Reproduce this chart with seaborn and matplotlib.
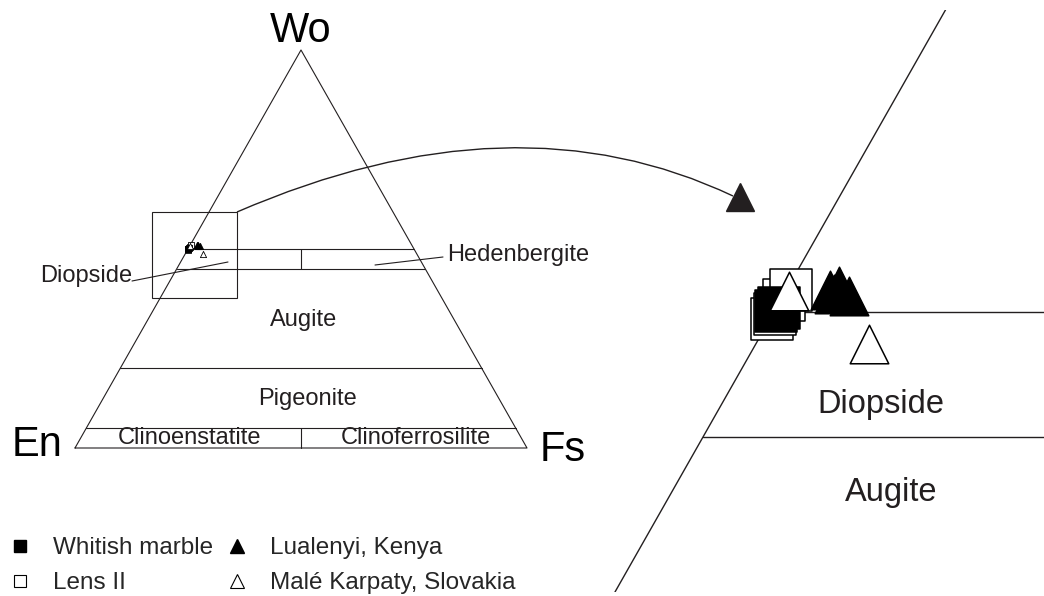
import numpy as np
import pandas as pd
import seaborn as sns
import matplotlib.pyplot as plt
from matplotlib.lines import Line2D
from matplotlib.patches import Rectangle, PathPatch
from matplotlib.path import Path

# pyroxene compositions, mol % (Wo, Fs); En is the rest
marble_wo = [50.18, 50.04]
marble_fs = [0.07, 0.05]
lens_wo = [49.72, 49.92, 50.50, 50.90]
lens_fs = [0.07, 0.08, 0.10, 0.15]
kenya_wo = [50.88, 50.72, 51.04, 50.66]
kenya_fs = [1.53, 1.75, 1.77, 2.31]
slovakia_wo = [50.84, 48.72]
slovakia_fs = [0.11, 3.99]

# Wo lines of the pyroxene classification
wo_lines = [5, 20, 45, 50]

INK = "#231f20"


def tern(wo, fs):
    wo = np.asarray(wo, dtype=float) / 100
    fs = np.asarray(fs, dtype=float) / 100
    return fs + wo / 2, wo


def px(x, y):
    # figure pixel -> main-axes data (used for decorations only)
    return (x - 75) / 452, (448 - y) / 398


sns.set_style("white")
plt.rcParams["font.family"] = ["Liberation Sans", "DejaVu Sans"]

fig = plt.figure(figsize=(10.44, 5.96), dpi=100)
ax1 = fig.add_axes([0, 0, 1, 1])
ax1.axis("off")
ax2 = fig.add_axes([560 / 1044, 4 / 596, 484 / 1044, 582 / 596])
ax2.axis("off")

# --- main triangle
ax1.plot([0, 1, 0.5, 0], [0, 0, 1, 0], color=INK, lw=0.8)
for w in wo_lines:
    y = w / 100
    ax1.plot([y / 2, 1 - y / 2], [y, y], color=INK, lw=0.8)
ax1.plot([0.5, 0.5], [0.45, 0.5], color=INK, lw=0.8)
ax1.plot([0.5, 0.5], [0.0, 0.05], color=INK, lw=0.8)

ax1.text(*px(301, 31), "Wo", fontsize=30, ha="center", va="center", color="black")
ax1.text(*px(37, 445), "En", fontsize=30, ha="center", va="center", color="black")
ax1.text(*px(563, 450), "Fs", fontsize=30, ha="center", va="center", color="black")

lab = dict(fontsize=17, ha="center", va="center", color=INK)
ax1.text(*px(304, 320), "Augite", **lab)
ax1.text(*px(307, 399), "Pigeonite", **lab)
ax1.text(*px(189, 438), "Clinoenstatite", **lab)
ax1.text(*px(416, 438), "Clinoferrosilite", **lab)
ax1.text(*px(86, 276), "Diopside", **lab)
ax1.text(*px(518, 255), "Hedenbergite", **lab)

for (xa, ya), (xb, yb) in [((132, 281), (228, 262)), ((443, 257), (375, 265))]:
    a, b = px(xa, ya), px(xb, yb)
    ax1.plot([a[0], b[0]], [a[1], b[1]], color=INK, lw=0.8)

# zoom box and curved pointer
bx0, by0 = px(152, 298)
bx1, by1 = px(237, 212)
ax1.add_patch(Rectangle((bx0, by0), bx1 - bx0, by1 - by0, fill=False,
                        edgecolor=INK, lw=0.8))
curve = Path([px(237, 212), px(514, 92), px(733, 196)],
             [Path.MOVETO, Path.CURVE3, Path.CURVE3])
ax1.add_patch(PathPatch(curve, fill=False, edgecolor=INK, lw=1.0, clip_on=False))
ax1.plot(*px(739.5, 197), marker="^", ms=19.5, color=INK, clip_on=False)

# --- zoomed panel lines
ax2.plot([0, 0.5], [0, 1], color=INK, lw=1.0)
for w in [45, 50]:
    y = w / 100
    ax2.plot([y / 2, 1 - y / 2], [y, y], color=INK, lw=1.0, zorder=1)
ax2.text(0.2875, 0.4628, "Diopside", fontsize=23.5, ha="center", va="center", color=INK)
ax2.text(0.2912, 0.4276, "Augite", fontsize=23.5, ha="center", va="center", color=INK)

# --- data points on both panels
groups = [
    (lens_wo, lens_fs, "s", "white"),
    (marble_wo, marble_fs, "s", "black"),
    (slovakia_wo, slovakia_fs, "^", "white"),
    (kenya_wo, kenya_fs, "^", "black"),
]
for ax, s_sq, s_tr, lw in [(ax1, 24, 20, 0.6), (ax2, 900, 770, 1.1)]:
    for wo, fs, mk, fc in groups:
        x, y = tern(wo, fs)
        df = pd.DataFrame({"x": x, "y": y})
        sns.scatterplot(data=df, x="x", y="y", ax=ax, marker=mk,
                        s=s_sq if mk == "s" else s_tr, color=fc,
                        edgecolor="black", linewidth=lw, zorder=3, legend=False)
    ax.set_xlabel("")
    ax.set_ylabel("")

ax1.set_xlim(-75 / 452, 969 / 452)
ax1.set_ylim(-148 / 398, 448 / 398)
ax2.set_xlim(0.17463, 0.34511)
ax2.set_ylim(0.388, 0.6208)

# --- legend
handles = [
    Line2D([], [], ls="none", marker="s", ms=8.5, mfc="black", mec="black"),
    Line2D([], [], ls="none", marker="s", ms=8.5, mfc="white", mec="black", mew=0.8),
    Line2D([], [], ls="none", marker="^", ms=9.5, mfc="black", mec="black"),
    Line2D([], [], ls="none", marker="^", ms=9.5, mfc="white", mec="black", mew=0.8),
]
labels = ["Whitish marble", "Lens II", "Lualenyi, Kenya", "Malé Karpaty, Slovakia"]
fig.legend(handles, labels, ncol=2, loc="upper left",
           bbox_to_anchor=(8 / 1044, 1 - 537 / 596), frameon=False,
           fontsize=17.5, handlelength=1.0, handletextpad=0.85,
           columnspacing=0.5, labelspacing=0.55, borderpad=0,
           borderaxespad=0)

fig.savefig("out.png", dpi=100)
